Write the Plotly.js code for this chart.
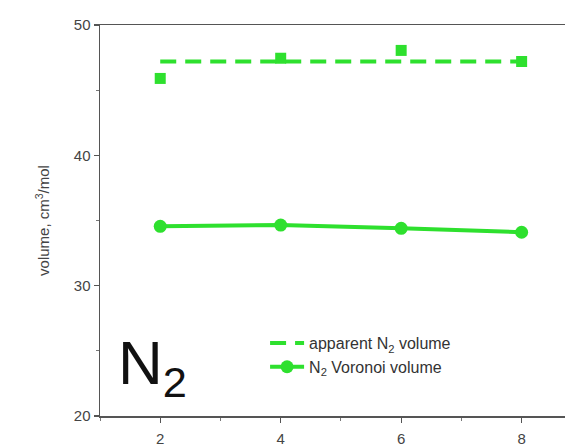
<!DOCTYPE html>
<html>
<head>
<meta charset="utf-8">
<script src="https://cdn.plot.ly/plotly-3.0.1.min.js"></script>
<style>
  html, body { margin: 0; padding: 0; background: #fff; }
  #chart { width: 565px; height: 444px; }
</style>
</head>
<body>
<div id="chart"></div>
<script>
// Molar volume of N2 versus number of molecules
const xVals = [2, 4, 6, 8];
const apparentVolume = [45.9, 47.45, 48.05, 47.2];
const apparentMeanX = [2, 8];
const apparentMeanY = [47.2, 47.2];
const voronoiVolume = [34.55, 34.65, 34.4, 34.1];
const xTicks = [2, 4, 6, 8];
const yTicks = [20, 30, 40, 50];

const green = '#2ee02e';
const font = 'Liberation Sans, Arial, sans-serif';

const traces = [
  {
    x: xVals, y: apparentVolume,
    mode: 'markers', type: 'scatter',
    marker: { symbol: 'square', size: 11, color: green },
    showlegend: false, hoverinfo: 'x+y'
  },
  {
    x: apparentMeanX, y: apparentMeanY,
    mode: 'lines', type: 'scatter',
    name: 'apparent N<sub>2</sub> volume',
    line: { color: green, width: 4, dash: '16px,9px' }
  },
  {
    x: xVals, y: voronoiVolume,
    mode: 'lines+markers', type: 'scatter',
    name: 'N<sub>2</sub> Voronoi volume',
    line: { color: green, width: 4 },
    marker: { symbol: 'circle', size: 13, color: green }
  }
];

const axisCommon = {
  showgrid: false, zeroline: false,
  showline: true, linecolor: '#555', linewidth: 1.5,
  ticks: 'outside', ticklen: 5, tickwidth: 1.2, tickcolor: '#555',
  tickfont: { family: font, size: 15, color: '#444' }
};

const layout = {
  width: 565, height: 444,
  margin: { l: 100, r: 0, t: 25, b: 28 },
  paper_bgcolor: '#fff', plot_bgcolor: '#fff',
  font: { family: font, color: '#333' },
  showlegend: true,
  legend: {
    x: 0.355, y: 0.23, xanchor: 'left', yanchor: 'top',
    bgcolor: 'rgba(0,0,0,0)',
    font: { family: font, size: 16, color: '#333' },
    tracegroupgap: 0, itemwidth: 34
  },
  xaxis: Object.assign({}, axisCommon, {
    range: [1, 8.72], tickvals: xTicks, mirror: true,
    ticklabelstandoff: 3,
    minor: { ticks: 'outside', ticklen: 3, tickcolor: '#777', tickwidth: 1, dtick: 1 }
  }),
  yaxis: Object.assign({}, axisCommon, {
    range: [20, 50], tickvals: yTicks,
    minor: { ticks: 'outside', ticklen: 3, tickcolor: '#777', tickwidth: 1, dtick: 5 },
    title: { text: 'volume, cm<sup>3</sup>/mol', font: { family: font, size: 15, color: '#444' }, standoff: 20 }
  }),
  annotations: [
    {
      text: 'N<sub>2</sub>', xref: 'paper', yref: 'paper',
      x: 0.035, y: 0.02, xanchor: 'left', yanchor: 'bottom',
      showarrow: false,
      font: { family: font, size: 62, color: '#111' }
    }
  ]
};

Plotly.newPlot('chart', traces, layout, { displayModeBar: false, staticPlot: true });
</script>
</body>
</html>
